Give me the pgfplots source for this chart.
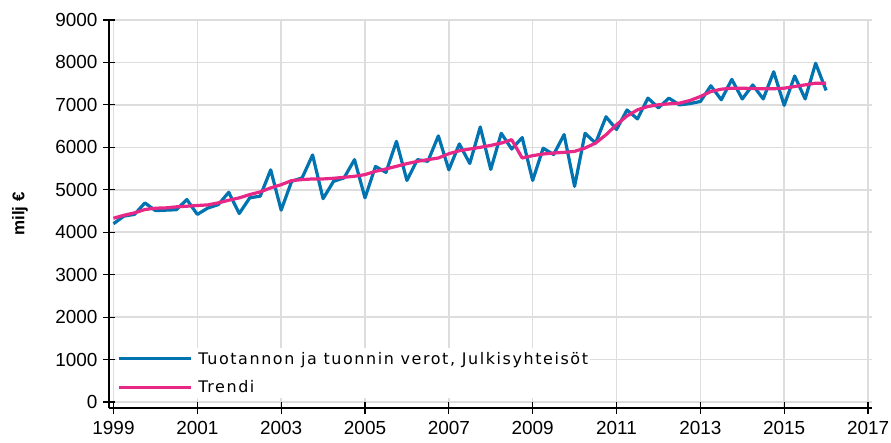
\documentclass[border=0pt]{standalone}
\usepackage{pgfplots}
\pgfplotsset{compat=1.18}
\usepackage{fontspec}
\setmainfont{Liberation Sans}
\newfontfamily\legfont[LetterSpace=10]{DejaVu Sans}
\definecolor{sblue}{RGB}{0,115,176}
\definecolor{spink}{RGB}{232,40,135}
\definecolor{gridc}{RGB}{221,221,221}
\begin{document}
\begin{tikzpicture}
\begin{axis}[
  scale only axis,
  width=763bp, height=388bp,
  xmin=1998.893, xmax=2017.095,
  ymin=-141, ymax=9000,
  axis x line*=bottom, axis y line*=left,
  axis line style={black, line width=1.2bp, -},
  xtick={1999,2001,...,2017},
  ytick={0,1000,...,9000},
  xticklabels={1999,2001,2003,2005,2007,2009,2011,2013,2015,2017},
  grid=major,
  major grid style={gridc, line width=1.5bp},
  tick align=center,
  major tick length=12bp,
  tick style={black, line width=1.2bp},
  ticklabel style={font=\fontsize{19}{21}\selectfont},
  xticklabel style={yshift=-4bp},
  yticklabel style={xshift=-2bp},
  /pgf/number format/assume math mode=true,
  /pgf/number format/1000 sep={},
  ylabel={milj €},
  ylabel style={at={(axis description cs:-0.1166,0.5)}, anchor=center, font=\fontsize{17}{19}\selectfont\bfseries},
  legend style={
    at={(rel axis cs:0.0105,0.025)}, anchor=south west,
    fill=white, draw=none, inner xsep=0bp, inner ysep=2bp,
    font=\legfont\fontsize{16}{18}\selectfont,
    row sep=11bp,
    legend cell align=left,
  },
  legend image code/.code={\draw[#1, line width=3.2bp] (0bp,0bp) -- (72bp,0bp); \path (76bp,0bp);},
]
\addplot[sblue, line width=3.2bp, line join=round] coordinates {
(1999.00,4200) (1999.25,4380) (1999.50,4420) (1999.75,4690)
(2000.00,4510) (2000.25,4520) (2000.50,4530) (2000.75,4770)
(2001.00,4420) (2001.25,4570) (2001.50,4650) (2001.75,4940)
(2002.00,4440) (2002.25,4810) (2002.50,4850) (2002.75,5470)
(2003.00,4520) (2003.25,5200) (2003.50,5280) (2003.75,5820)
(2004.00,4790) (2004.25,5200) (2004.50,5280) (2004.75,5710)
(2005.00,4810) (2005.25,5550) (2005.50,5410) (2005.75,6140)
(2006.00,5220) (2006.25,5710) (2006.50,5670) (2006.75,6270)
(2007.00,5470) (2007.25,6080) (2007.50,5620) (2007.75,6480)
(2008.00,5480) (2008.25,6330) (2008.50,5960) (2008.75,6230)
(2009.00,5220) (2009.25,5980) (2009.50,5830) (2009.75,6300)
(2010.00,5080) (2010.25,6330) (2010.50,6100) (2010.75,6720)
(2011.00,6420) (2011.25,6880) (2011.50,6670) (2011.75,7160)
(2012.00,6930) (2012.25,7160) (2012.50,7000) (2012.75,7030)
(2013.00,7080) (2013.25,7450) (2013.50,7120) (2013.75,7600)
(2014.00,7140) (2014.25,7470) (2014.50,7140) (2014.75,7780)
(2015.00,6990) (2015.25,7680) (2015.50,7140) (2015.75,7980)
(2016.00,7340)
};
\addlegendentry{Tuotannon ja tuonnin verot, Julkisyhteisöt}
\addplot[spink, line width=3.2bp, line join=round] coordinates {
(1999.00,4330) (1999.25,4400) (1999.50,4456) (1999.75,4535)
(2000.00,4566) (2000.25,4574) (2000.50,4598) (2000.75,4613)
(2001.00,4629) (2001.25,4644) (2001.50,4692) (2001.75,4754)
(2002.00,4809) (2002.25,4887) (2002.50,4950) (2002.75,5044)
(2003.00,5120) (2003.25,5216) (2003.50,5240) (2003.75,5255)
(2004.00,5255) (2004.25,5271) (2004.50,5294) (2004.75,5318)
(2005.00,5357) (2005.25,5435) (2005.50,5490) (2005.75,5553)
(2006.00,5615) (2006.25,5670) (2006.50,5710) (2006.75,5749)
(2007.00,5850) (2007.25,5920) (2007.50,5960) (2007.75,6000)
(2008.00,6046) (2008.25,6100) (2008.50,6180) (2008.75,5749)
(2009.00,5804) (2009.25,5843) (2009.50,5866) (2009.75,5882)
(2010.00,5905) (2010.25,5984) (2010.50,6100) (2010.75,6297)
(2011.00,6532) (2011.25,6740) (2011.50,6884) (2011.75,6963)
(2012.00,7002) (2012.25,7025) (2012.50,7041) (2012.75,7103)
(2013.00,7197) (2013.25,7315) (2013.50,7370) (2013.75,7393)
(2014.00,7393) (2014.25,7385) (2014.50,7380) (2014.75,7380)
(2015.00,7393) (2015.25,7433) (2015.50,7472) (2015.75,7511)
(2016.00,7511)
};
\addlegendentry{Trendi}
\coordinate (sw) at (rel axis cs:0,0);
\end{axis}
\pgfresetboundingbox
\path (sw) ++(-109bp,-35bp) rectangle ++(891bp,443bp);
\end{tikzpicture}
\end{document}
